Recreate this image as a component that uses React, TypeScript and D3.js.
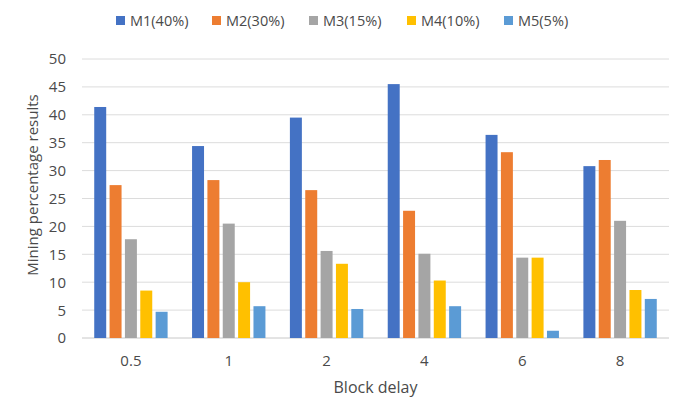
import React from "react";
import * as d3 from "d3";

const categories = ["0.5", "1", "2", "4", "6", "8"];
const seriesNames = ["M1(40%)", "M2(30%)", "M3(15%)", "M4(10%)", "M5(5%)"];
const seriesColors = ["#4472C4", "#ED7D31", "#A5A5A5", "#FFC000", "#5B9BD5"];
const m1 = [41.4, 34.4, 39.5, 45.5, 36.4, 30.8];
const m2 = [27.4, 28.3, 26.5, 22.8, 33.3, 31.9];
const m3 = [17.7, 20.5, 15.6, 15.1, 14.4, 21.0];
const m4 = [8.5, 10.0, 13.3, 10.3, 14.4, 8.6];
const m5 = [4.7, 5.7, 5.2, 5.7, 1.3, 7.0];
const yTicks = [0, 5, 10, 15, 20, 25, 30, 35, 40, 45, 50];

const W = 685;
const H = 412;
const FONT = "'Open Sans', 'DejaVu Sans', sans-serif";
const TXT = "#4a4a4a";

export default function App() {
  const series = [m1, m2, m3, m4, m5];
  const left = 82, right = 669, top = 59, bottom = 338;
  const x0 = d3.scaleBand<string>().domain(categories).range([left, right]).paddingInner(0.25).paddingOuter(0.125);
  const x1 = d3.scaleBand<number>().domain(d3.range(series.length)).range([0, x0.bandwidth()]).paddingInner(0.22);
  const y = d3.scaleLinear().domain([0, 50]).range([bottom, top]);
  const legendX = [116, 212, 309, 407, 504];

  return (
    <svg width={W} height={H} style={{ position: "absolute", left: 0, top: 0, background: "#fff" }}>
      <rect x={0} y={0} width={W} height={H} fill="#fff" />
      {yTicks.map((t) => (
        <g key={t}>
          <line x1={left} x2={right} y1={y(t)} y2={y(t)} stroke={t === 0 ? "#c8c8c8" : "#dcdcdc"} strokeWidth={1} />
          <text x={66} y={y(t)} dy="0.36em" textAnchor="end" fontFamily={FONT} fontSize={15} fill={TXT}>{t}</text>
        </g>
      ))}
      {categories.map((c, ci) => (
        <g key={c} transform={`translate(${x0(c)},0)`}>
          {series.map((s, si) => (
            <rect key={si} x={x1(si)} y={y(s[ci])} width={x1.bandwidth()} height={y(0) - y(s[ci])} fill={seriesColors[si]} />
          ))}
          <text x={x0.bandwidth() / 2} y={366} textAnchor="middle" fontFamily={FONT} fontSize={15} fill={TXT}>{c}</text>
        </g>
      ))}
      <text x={(left + right) / 2} y={393} textAnchor="middle" fontFamily={FONT} fontSize={16} fill={TXT}>Block delay</text>
      <text transform={`translate(38,185) rotate(-90)`} textAnchor="middle" fontFamily={FONT} fontSize={15} fill={TXT}>Mining percentage results</text>
      {seriesNames.map((n, i) => (
        <g key={n} transform={`translate(${legendX[i]},0)`}>
          <rect x={0} y={16} width={9} height={9} fill={seriesColors[i]} />
          <text x={14} y={20.5} dy="0.36em" fontFamily={FONT} fontSize={14.5} fill={TXT}>{n}</text>
        </g>
      ))}
    </svg>
  );
}
